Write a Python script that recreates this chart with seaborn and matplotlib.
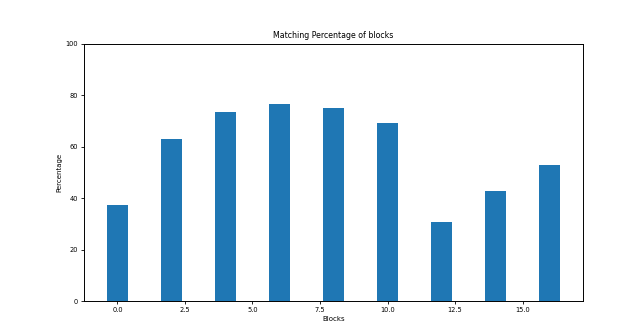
import matplotlib
matplotlib.use("Agg")
import matplotlib.pyplot as plt
import seaborn as sns
import pandas as pd

# Block indices and the matching percentage for each block
blocks = [0, 2, 4, 6, 8, 10, 12, 14, 16]
percentages = [37.5, 63.0, 73.7, 76.8, 75.2, 69.3, 30.6, 42.8, 52.9]

df = pd.DataFrame({"Blocks": blocks, "Percentage": percentages})

fig = plt.figure(figsize=(6.35, 3.26), dpi=100)
ax = fig.add_axes([84 / 635, 1 - 301 / 326, (583 - 84) / 635, (301 - 44) / 326])

sns.barplot(data=df, x="Blocks", y="Percentage", native_scale=True,
            width=0.4, color="#1f77b4", saturation=1, linewidth=0, ax=ax)

ax.set_ylim(0, 100)
ax.set_yticks([0, 20, 40, 60, 80, 100])
ax.set_xticks([0.0, 2.5, 5.0, 7.5, 10.0, 12.5, 15.0])
ax.set_xticklabels(["0.0", "2.5", "5.0", "7.5", "10.0", "12.5", "15.0"])
ax.set_title("Matching Percentage of blocks", fontsize=5.7, pad=4)
ax.set_xlabel("Blocks", fontsize=5, labelpad=2)
ax.set_ylabel("Percentage", fontsize=5, labelpad=2)
ax.tick_params(labelsize=4.8, length=2.5, width=0.6, pad=2)
for s in ax.spines.values():
    s.set_linewidth(0.7)

fig.savefig("out.png", dpi=100)
